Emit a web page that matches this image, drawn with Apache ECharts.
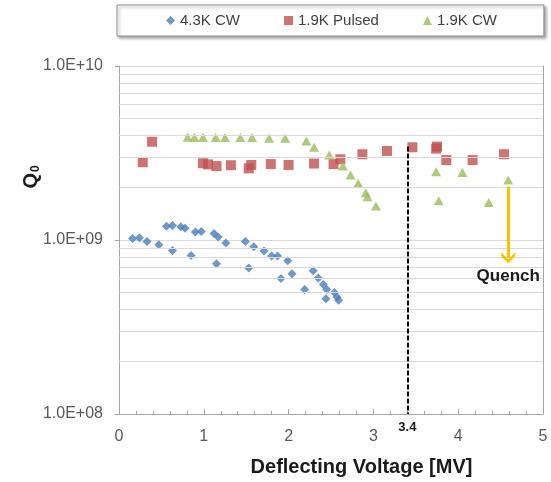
<!DOCTYPE html>
<html>
<head>
<meta charset="utf-8">
<script src="https://cdn.jsdelivr.net/npm/echarts@6/dist/echarts.min.js"></script>
<style>
  html, body { margin: 0; padding: 0; background: #fff; }
  #chart { width: 551px; height: 482px; }
</style>
</head>
<body>
<div id="chart"></div>
<script>
// Series names
const seriesNames = ['4.3K CW', '1.9K Pulsed', '1.9K CW'];

// 4.3K CW: deflecting voltage [MV] and Q0
const cw43Volt = [0.16, 0.24, 0.33, 0.47, 0.56, 0.63, 0.73, 0.78, 0.90, 0.97, 1.12, 1.17, 1.26,
                  0.63, 0.85, 1.15, 1.49, 1.59, 1.71, 1.80, 1.87, 1.99, 1.53, 1.91, 2.04, 2.19,
                  2.29, 2.35, 2.41, 2.45, 2.44, 2.54, 2.57, 2.59];
const cw43Q0 = [1.02e9, 1.03e9, 0.98e9, 0.94e9, 1.20e9, 1.21e9, 1.19e9, 1.17e9, 1.11e9, 1.12e9, 1.09e9, 1.04e9, 0.96e9,
                0.87e9, 0.815e9, 0.73e9, 0.98e9, 0.915e9, 0.865e9, 0.81e9, 0.81e9, 0.76e9, 0.69e9, 0.60e9, 0.64e9, 0.52e9,
                0.665e9, 0.605e9, 0.555e9, 0.52e9, 0.46e9, 0.50e9, 0.47e9, 0.45e9];

// 1.9K Pulsed
const pulsedVolt = [0.28, 0.39, 0.99, 1.05, 1.15, 1.32, 1.53, 1.56, 1.79, 2.00, 2.30, 2.53, 2.61,
                    2.87, 3.16, 3.46, 3.75, 3.74, 3.86, 4.17, 4.54];
const pulsedQ0 = [2.80e9, 3.67e9, 2.76e9, 2.72e9, 2.66e9, 2.69e9, 2.58e9, 2.70e9, 2.73e9, 2.70e9, 2.75e9, 2.73e9, 2.91e9,
                  3.11e9, 3.25e9, 3.41e9, 3.44e9, 3.35e9, 2.88e9, 2.88e9, 3.11e9];

// 1.9K CW
const cw19Volt = [0.81, 0.89, 0.99, 1.14, 1.25, 1.43, 1.57, 1.77, 1.96, 2.21, 2.30, 2.48, 2.64,
                  2.73, 2.82, 2.91, 2.93, 3.03, 3.74, 4.05, 4.59, 3.77, 4.36];
const cw19Q0 = [3.90e9, 3.88e9, 3.88e9, 3.88e9, 3.88e9, 3.88e9, 3.88e9, 3.84e9, 3.84e9, 3.71e9, 3.41e9, 3.08e9, 2.66e9,
                2.36e9, 2.12e9, 1.87e9, 1.77e9, 1.57e9, 2.47e9, 2.44e9, 2.21e9, 1.68e9, 1.64e9];

// Reference marker at 3.4 MV
const refVolt = 3.4;
const refTopQ0 = 3.45e9;

// Quench arrow (voltage, start Q0, end Q0)
const quenchVolt = 4.59;
const quenchFromQ0 = 2.03e9;
const quenchToQ0 = 0.79e9;

// Axis tick labels and minor gridline values
const yTickLabels = {8: '1.0E+08', 9: '1.0E+09', 10: '1.0E+10'};
const minorGridQ0 = [2e8, 3e8, 4e8, 5e8, 6e8, 7e8, 8e8, 9e8,
                     2e9, 3e9, 4e9, 5e9, 6e9, 7e9, 8e9, 9e9];

const zip = (xs, ys) => xs.map((x, i) => [x, ys[i]]);

const FONT = '"Liberation Sans", Arial, sans-serif';
const chart = echarts.init(document.getElementById('chart'), null, { renderer: 'canvas' });

chart.setOption({
  animation: false,
  backgroundColor: '#ffffff',
  textStyle: { fontFamily: FONT },
  grid: { left: 119, right: 8, top: 66, bottom: 68, containLabel: false },
  legend: {
    data: seriesNames,
    left: 117,
    top: 5,
    padding: [8, 47, 8, 49],
    itemGap: 44,
    itemWidth: 9,
    itemHeight: 9,
    textStyle: { fontSize: 15, color: '#404040', fontFamily: FONT, padding: [0, 0, 0, 0] },
    backgroundColor: '#ffffff',
    borderColor: '#8f8f8f',
    borderWidth: 1,
    shadowColor: 'rgba(0,0,0,0.35)',
    shadowBlur: 3,
    shadowOffsetX: 2,
    shadowOffsetY: 2
  },
  xAxis: {
    type: 'value',
    min: 0,
    max: 5,
    interval: 1,
    name: 'Deflecting Voltage [MV]',
    nameLocation: 'middle',
    nameGap: 43,
    nameTextStyle: { fontSize: 20, fontWeight: 'bold', color: '#1a1a1a', fontFamily: FONT, padding: [0, 0, 0, 61] },
    axisLine: { lineStyle: { color: '#a6a6a6', width: 1 } },
    axisTick: { show: true, inside: true, length: 5, lineStyle: { color: '#a6a6a6' } },
    minorTick: { show: true, splitNumber: 5, length: 3, lineStyle: { color: '#a6a6a6' } },
    splitLine: { show: false },
    axisLabel: { fontSize: 16, color: '#595959', margin: 15, fontFamily: FONT }
  },
  yAxis: [{
    type: 'log',
    logBase: 10,
    min: 1e8,
    max: 1e10,
    axisLine: { show: true, lineStyle: { color: '#a6a6a6', width: 1 } },
    axisTick: { show: true, length: 4, lineStyle: { color: '#a6a6a6' } },
    splitLine: { show: true, lineStyle: { color: '#d9d9d9', width: 1 } },
    axisLabel: {
      fontSize: 16,
      color: '#595959',
      margin: 16,
      fontFamily: FONT,
      formatter: v => yTickLabels[Math.round(Math.log10(v))] || ''
    }
  }, {
    type: 'log',
    logBase: 10,
    min: 1e8,
    max: 1e10,
    position: 'right',
    axisLine: { show: true, lineStyle: { color: '#a6a6a6', width: 1 } },
    axisTick: { show: false },
    axisLabel: { show: false },
    splitLine: { show: false }
  }],
  graphic: [{
    type: 'text',
    x: 31,
    y: 177,
    rotation: Math.PI / 2,
    style: {
      text: '{q|Q}{s|0}',
      align: 'center',
      verticalAlign: 'middle',
      rich: {
        q: { fontSize: 20, fontWeight: 'bold', fill: '#1a1a1a', fontFamily: FONT, lineHeight: 22, verticalAlign: 'middle' },
        s: { fontSize: 12, fontWeight: 'bold', fill: '#1a1a1a', fontFamily: FONT, lineHeight: 12, padding: [13, 0, 0, 1], verticalAlign: 'bottom' }
      }
    }
  }],
  series: [
    {
      // minor logarithmic gridlines
      type: 'scatter',
      name: 'grid',
      data: [],
      z: 1,
      silent: true,
      markLine: {
        silent: true,
        symbol: ['none', 'none'],
        label: { show: false },
        lineStyle: { type: 'solid', color: '#d9d9d9', width: 1 },
        data: minorGridQ0.map(v => ({ yAxis: v }))
      }
    },
    {
      name: seriesNames[0],
      type: 'scatter',
      symbol: 'diamond',
      symbolSize: 9,
      itemStyle: { color: '#4a7ebb' },
      z: 3,
      data: zip(cw43Volt, cw43Q0)
    },
    {
      name: seriesNames[1],
      type: 'scatter',
      symbol: 'rect',
      symbolSize: 10,
      itemStyle: { color: '#c0504d' },
      z: 3,
      data: zip(pulsedVolt, pulsedQ0),
      markLine: {
        silent: true,
        symbol: ['none', 'none'],
        lineStyle: { type: [5, 2], color: '#000000', width: 2 },
        label: {
          show: true,
          position: 'end',
          distance: 7,
          formatter: String(refVolt),
          fontSize: 13,
          fontWeight: 'bold',
          color: '#1a1a1a',
          fontFamily: FONT
        },
        data: [[{ coord: [refVolt, refTopQ0] }, { coord: [refVolt, 1e8] }]]
      }
    },
    {
      name: seriesNames[2],
      type: 'scatter',
      symbol: 'triangle',
      symbolSize: [10, 9],
      itemStyle: { color: '#9bbb59' },
      z: 3,
      data: zip(cw19Volt, cw19Q0),
      markLine: {
        silent: true,
        symbol: ['none', 'path://M0,10 L6,3.5 L12,10 L12,6.5 L6,0 L0,6.5 Z'],
        symbolSize: [14, 11],
        lineStyle: { type: 'solid', color: '#ffc000', width: 3 },
        itemStyle: { color: '#ffc000' },
        label: {
          show: true,
          position: 'end',
          distance: 10,
          formatter: 'Quench',
          fontSize: 17,
          fontWeight: 'bold',
          color: '#1a1a1a',
          fontFamily: FONT
        },
        data: [[{ coord: [quenchVolt, quenchFromQ0] }, { coord: [quenchVolt, quenchToQ0] }]]
      }
    }
  ]
});
</script>
</body>
</html>
